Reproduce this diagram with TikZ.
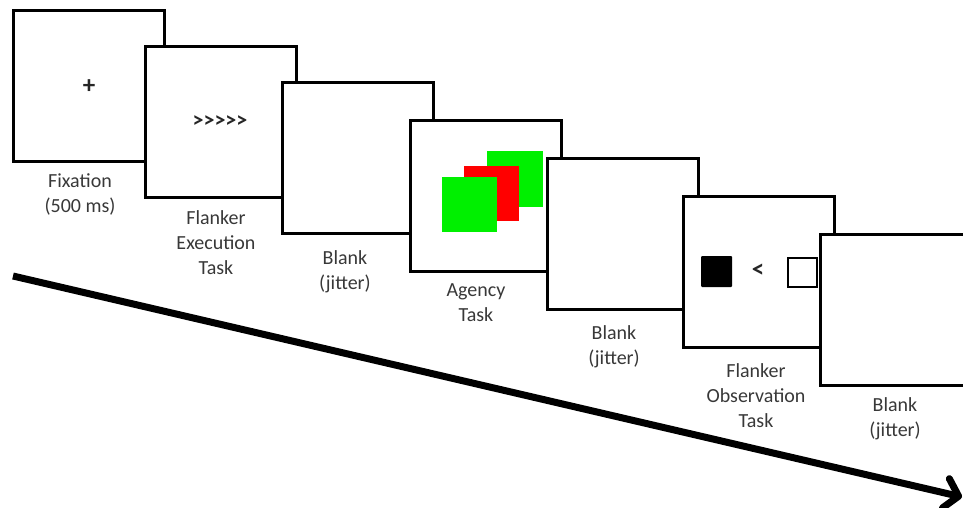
\documentclass[tikz,border=0pt]{standalone}
\usepackage{fontspec}
\setmainfont{Carlito}
\newfontfamily\symfont{Carlito}[Ligatures=TeXOff]
\usetikzlibrary{arrows.meta}
\begin{document}
\begin{tikzpicture}[x=1pt,y=-1pt,
  screen/.style={draw=black, fill=white, line width=3pt, minimum width=151pt,
    minimum height=151pt, inner sep=0pt, outer sep=0pt, anchor=north west},
  caption/.style={align=center, text=black!78, inner sep=0pt, anchor=north,
    font=\fontsize{20}{25}\selectfont},
  glyph/.style={inner sep=0pt, text=black!85, font=\symfont\fontsize{#1}{24}\selectfont\bfseries},
  patch/.style={inner sep=0pt, outer sep=0pt, anchor=north west, minimum width=#1, minimum height=#1},
  timeline/.style={line width=7pt, -{Straight Barb[length=13pt, width=30pt, round]}}
]
\useasboundingbox (0,0) rectangle (963,507);

% fixation screen
\node[screen] (f1) at (13,10) {};
\node[glyph=25] (plus) at (89,87) {+};
\node[caption] (c1) at (80,173) {Fixation\\(500 ms)};

% flanker execution screen
\node[screen] (f2) at (145,46) {};
\node[glyph=22] (arrows) at (220,122) {>>>>>};
\node[caption] (c2) at (216,210) {Flanker\\Execution\\Task};

% blank screen
\node[screen] (f3) at (282,82) {};
\node[caption] (c3) at (345,250) {Blank\\(jitter)};

% agency screen with overlapping squares
\node[screen] (f4) at (410,120) {};
\node[patch=56pt, fill={rgb,255:red,0;green,240;blue,0}] (g1) at (487,151) {};
\node[patch=55pt, fill={rgb,255:red,255;green,0;blue,0}] (r1) at (464,166) {};
\node[patch=55pt, fill={rgb,255:red,0;green,240;blue,0}] (g2) at (442,177) {};
\node[caption] (c4) at (476,283) {Agency\\Task};

% blank screen
\node[screen] (f5) at (547,158) {};
\node[caption] (c5) at (614,325) {Blank\\(jitter)};

% flanker observation screen
\node[screen] (f6) at (683,196) {};
\node[patch=31pt, fill=black, rounded corners=1pt] (bsq) at (701,256) {};
\node[glyph=25] (lt) at (758,271) {<};
\node[patch=29pt, draw=black, line width=2.5pt, fill=white] (wsq) at (788,258) {};
\node[caption] (c6) at (756,363) {Flanker\\Observation\\Task};

% final blank screen
\node[screen] (f7) at (820,234) {};
\node[caption] (c7) at (895,397) {Blank\\(jitter)};

% time axis
\coordinate (tstart) at (13,276);
\coordinate (tend) at (962,497);
\draw[timeline] (tstart) -- (tend);
\end{tikzpicture}
\end{document}
